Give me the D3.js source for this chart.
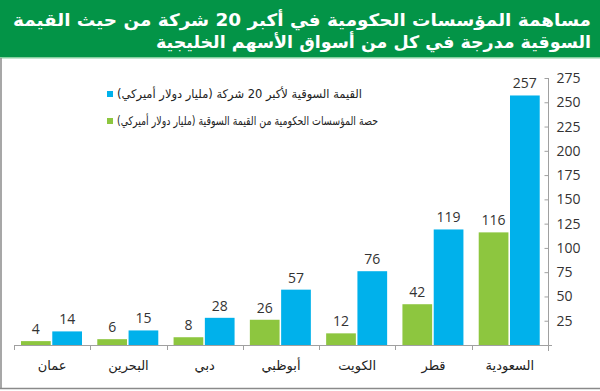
<!DOCTYPE html>
<html><head><meta charset="utf-8">
<script src="https://cdn.jsdelivr.net/npm/d3@7"></script>
<style>
html,body{margin:0;padding:0;background:#fff;}
svg{display:block;}
</style></head>
<body>
<svg id="chart" width="600" height="391"></svg>
<script>
const titleLines = ["مساهمة المؤسسات الحكومية في أكبر 20 شركة من حيث القيمة", "السوقية مدرجة في كل من أسواق الأسهم الخليجية"];
const categories = ["السعودية","قطر","الكويت","أبوظبي","دبي","البحرين","عمان"];
const marketValue = [257,119,76,57,28,15,14];
const govShare = [116,42,12,26,8,6,4];
const seriesNames = ["القيمة السوقية لأكبر 20 شركة (مليار دولار أميركي)", "حصة المؤسسات الحكومية من القيمة السوقية (مليار دولار أميركي)"];
const tickValues = [25,50,75,100,125,150,175,200,225,250,275];

const BLUE = "#00b1eb", GREEN = "#8dc63f";
const arFont = "'DejaVu Sans', sans-serif";
const numFont = "'Open Sans', 'Noto Sans', sans-serif";

const svg = d3.select("#chart");

// header
svg.append("rect").attr("x",0).attr("y",0).attr("width",600).attr("height",57).attr("fill","#039447");
svg.append("rect").attr("x",0).attr("y",57).attr("width",600).attr("height",1.5).attr("fill","#86cfa0");
const titleWidths = [578, 435];
svg.selectAll("text.title").data(titleLines).join("text")
  .attr("class","title")
  .attr("x",591).attr("y",(d,i)=>26+i*22)
  .attr("direction","rtl").attr("text-anchor","start")
  .attr("fill","#fff").attr("font-family",arFont).attr("font-weight","bold").attr("font-size",17)
  .attr("textLength",(d,i)=>titleWidths[i]).attr("lengthAdjust","spacingAndGlyphs")
  .text(d=>d);

// frame
svg.append("line").attr("x1",1).attr("x2",1).attr("y1",58).attr("y2",389).attr("stroke","#8a8a8a").attr("stroke-width",1.5);
svg.append("line").attr("x1",0).attr("x2",600).attr("y1",388.5).attr("y2",388.5).attr("stroke","#8a8a8a").attr("stroke-width",1.5);

const y = d3.scaleLinear().domain([0,275]).range([345,78]);
const x0 = d3.scaleBand().domain(categories).range([548,14]);
const x1 = d3.scaleBand().domain(["gov","mkt"]).range([7,68]).paddingInner(0.05);

const data = categories.map((c,i)=>({cat:c, gov:govShare[i], mkt:marketValue[i]}));

const g = svg.append("g");
const groups = g.selectAll("g.cat").data(data).join("g").attr("class","cat")
  .attr("transform",d=>`translate(${x0(d.cat)},0)`);
groups.append("rect").attr("x",x1("gov")).attr("width",x1.bandwidth())
  .attr("y",d=>y(d.gov)).attr("height",d=>y(0)-y(d.gov)).attr("fill",GREEN);
groups.append("rect").attr("x",x1("mkt")).attr("width",x1.bandwidth())
  .attr("y",d=>y(d.mkt)).attr("height",d=>y(0)-y(d.mkt)).attr("fill",BLUE);
groups.append("text").attr("x",x1("gov")+x1.bandwidth()/2).attr("y",d=>y(d.gov)-7)
  .attr("text-anchor","middle").attr("font-family",numFont).attr("font-size",14).attr("fill","#333").text(d=>d.gov);
groups.append("text").attr("x",x1("mkt")+x1.bandwidth()/2).attr("y",d=>y(d.mkt)-7)
  .attr("text-anchor","middle").attr("font-family",numFont).attr("font-size",14).attr("fill","#333").text(d=>d.mkt);
groups.append("text").attr("x",x0.bandwidth()/2).attr("y",370)
  .attr("text-anchor","middle").attr("direction","rtl").attr("font-family",arFont).attr("font-size",13).attr("fill","#222").text(d=>d.cat);

// baseline & separators
svg.append("line").attr("x1",14).attr("x2",552).attr("y1",345.5).attr("y2",345.5).attr("stroke","#a0a0a0");
const edges = categories.map(c=>x0(c)).concat([14]);
svg.selectAll("line.sep").data(edges.filter(e=>e<540)).join("line").attr("class","sep")
  .attr("x1",d=>Math.round(d)+0.5).attr("x2",d=>Math.round(d)+0.5).attr("y1",345).attr("y2",350).attr("stroke","#a0a0a0");

// right axis
const axis = d3.axisRight(y).tickValues(tickValues).tickSizeInner(-4).tickSizeOuter(0).tickPadding(8);
const ag = svg.append("g").attr("transform","translate(548.5,0)").call(axis);
ag.select(".domain").remove();
ag.selectAll(".tick line").attr("stroke","#a0a0a0");
ag.selectAll(".tick text").attr("font-family",numFont).attr("font-size",14).attr("fill","#333");
svg.append("line").attr("x1",548.5).attr("x2",548.5).attr("y1",y(275)).attr("y2",351).attr("stroke","#a0a0a0");

// legend
const legWidths = [245, 261];
const leg = svg.append("g");
[BLUE,GREEN].forEach((col,i)=>{
  leg.append("rect").attr("x",107).attr("y",91+i*27).attr("width",6).attr("height",6).attr("fill",col);
  leg.append("text").attr("x",117).attr("y",98+i*27).attr("direction","rtl").attr("text-anchor","end")
    .attr("font-family",arFont).attr("font-size",12).attr("fill","#222")
    .attr("textLength",legWidths[i]).attr("lengthAdjust","spacingAndGlyphs").text(seriesNames[i]);
});
</script>
</body></html>
